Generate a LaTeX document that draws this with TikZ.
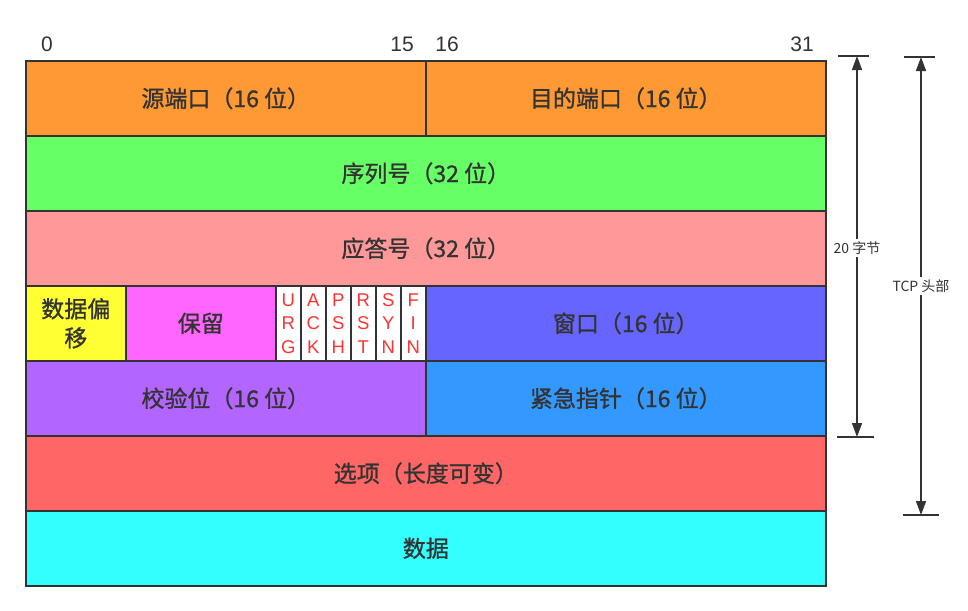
\documentclass[tikz,border=0pt]{standalone}
\usepackage{fontspec}
\setmainfont{Noto Sans CJK SC}
\newfontfamily\medfont{Noto Sans CJK SC}[FakeBold=1]
\newfontfamily\latinfont{Liberation Sans}
\usetikzlibrary{arrows.meta}
\definecolor{cOrange}{HTML}{FF9933}
\definecolor{cGreen}{HTML}{66FF66}
\definecolor{cPink}{HTML}{FF9999}
\definecolor{cYellow}{HTML}{FFFF33}
\definecolor{cMagenta}{HTML}{FF66FF}
\definecolor{cViolet}{HTML}{6666FF}
\definecolor{cPurple}{HTML}{B266FF}
\definecolor{cBlue}{HTML}{3399FF}
\definecolor{cRed}{HTML}{FF6666}
\definecolor{cCyan}{HTML}{33FFFF}
\definecolor{cText}{HTML}{333333}
\definecolor{cFlag}{HTML}{FF3333}
\tikzset{
  field/.style={draw=cText, line width=1.6pt, anchor=north west, inner sep=0pt,
    minimum height=75pt, text=cText, font=\fontsize{23}{27}\medfont, align=center},
  flagbox/.style={field, fill=white, minimum width=25pt, text=cFlag,
    font=\fontsize{18.5}{23.5}\latinfont},
  bitnum/.style={text=cText, font=\fontsize{21}{24}\latinfont, inner sep=0pt},
  bar/.style={draw=cText, line width=1.6pt},
  dimarrow/.style={draw=cText, line width=1.6pt, -{Triangle[width=10pt,length=14pt]}},
  sidelabel/.style={fill=white, text=cText, font=\fontsize{14}{16}\selectfont, inner sep=2pt}
}
\begin{document}
\begin{tikzpicture}[x=1pt,y=-1pt]
\useasboundingbox (0,0) rectangle (968,610);
% bit numbers
\node[bitnum] (b0) at (47,44) {0};
\node[bitnum] (b15) at (402,44) {15};
\node[bitnum] (b16) at (447,44) {16};
\node[bitnum] (b31) at (802,44) {31};
% row 1
\node[field, fill=cOrange, minimum width=400pt] (src) at (25,60) {源端口（16 位）};
\node[field, fill=cOrange, minimum width=400pt] (dst) at (425,60) {目的端口（16 位）};
% row 2
\node[field, fill=cGreen, minimum width=800pt] (seq) at (25,135) {序列号（32 位）};
% row 3
\node[field, fill=cPink, minimum width=800pt] (ack) at (25,210) {应答号（32 位）};
% row 4
\node[field, fill=cYellow, minimum width=100pt, font=\fontsize{23}{29}\medfont] (off) at (25,285) {数据偏\\移};
\node[field, fill=cMagenta, minimum width=150pt] (res) at (125,285) {保留};
\node[flagbox] (urg) at (275,285) {U\\R\\G};
\node[flagbox] (fack) at (300,285) {A\\C\\K};
\node[flagbox] (psh) at (325,285) {P\\S\\H};
\node[flagbox] (rst) at (350,285) {R\\S\\T};
\node[flagbox] (syn) at (375,285) {S\\Y\\N};
\node[flagbox] (fin) at (400,285) {F\\I\\N};
\node[field, fill=cViolet, minimum width=400pt] (win) at (425,285) {窗口（16 位）};
% row 5
\node[field, fill=cPurple, minimum width=400pt] (chk) at (25,360) {校验位（16 位）};
\node[field, fill=cBlue, minimum width=400pt] (urp) at (425,360) {紧急指针（16 位）};
% row 6
\node[field, fill=cRed, minimum width=800pt] (opt) at (25,435) {选项（长度可变）};
% row 7
\node[field, fill=cCyan, minimum width=800pt] (data) at (25,510) {数据};
% dimension: 20 bytes
\coordinate (t20l) at (838,56);
\coordinate (t20r) at (869,56);
\coordinate (b20l) at (837,437);
\coordinate (b20r) at (874,437);
\coordinate (t20) at (857,56);
\coordinate (b20) at (857,437);
\draw[bar] (t20l) -- (t20r);
\draw[bar] (b20l) -- (b20r);
\node[sidelabel] (l20) at (857,248) {20 字节};
\draw[dimarrow] (l20.north) -- (t20);
\draw[dimarrow] (l20.south) -- (b20);
% dimension: TCP header
\coordinate (ttl) at (904,57);
\coordinate (ttr) at (935,57);
\coordinate (btl) at (903,515);
\coordinate (btr) at (939,515);
\coordinate (tt) at (921,57);
\coordinate (bt) at (921,515);
\draw[bar] (ttl) -- (ttr);
\draw[bar] (btl) -- (btr);
\node[sidelabel] (ltcp) at (921,286) {TCP 头部};
\draw[dimarrow] (ltcp.north) -- (tt);
\draw[dimarrow] (ltcp.south) -- (bt);
\end{tikzpicture}
\end{document}
